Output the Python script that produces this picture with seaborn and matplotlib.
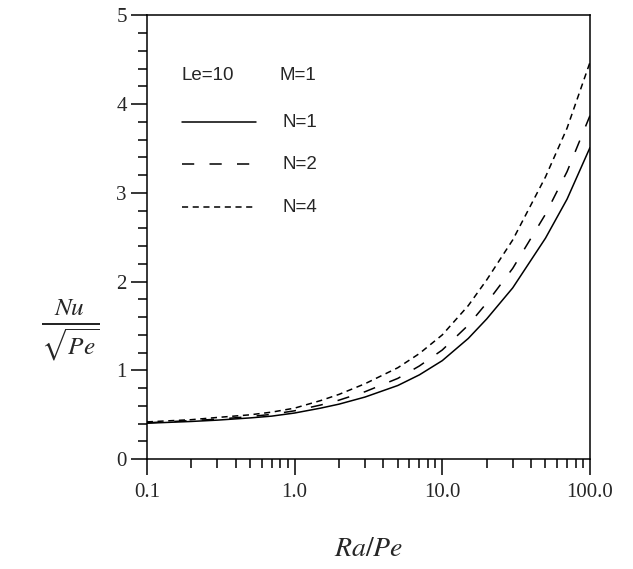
import numpy as np
import pandas as pd
import seaborn as sns
import matplotlib
matplotlib.use("Agg")
import matplotlib.pyplot as plt
from matplotlib.ticker import LogLocator, MultipleLocator, FixedLocator, FuncFormatter
from matplotlib.lines import Line2D

# Ra/Pe values
ra_pe = [0.1, 0.2, 0.3, 0.5, 0.7, 1.0, 1.5, 2.0, 3.0, 5.0, 7.0, 10.0, 15.0, 20.0, 30.0, 50.0, 70.0, 100.0]

# Nu/sqrt(Pe) for each N
nu_n1 = [0.405, 0.425, 0.44, 0.465, 0.485, 0.52, 0.575, 0.62, 0.70, 0.83, 0.95, 1.11, 1.36, 1.58, 1.93, 2.49, 2.93, 3.51]
nu_n2 = [0.41, 0.435, 0.45, 0.48, 0.505, 0.545, 0.61, 0.665, 0.76, 0.91, 1.05, 1.23, 1.51, 1.76, 2.15, 2.76, 3.24, 3.87]
nu_n4 = [0.42, 0.445, 0.47, 0.50, 0.53, 0.575, 0.66, 0.73, 0.85, 1.03, 1.19, 1.40, 1.73, 2.02, 2.47, 3.18, 3.73, 4.47]

labels = ["N=1", "N=2", "N=4"]
dash_styles = {"N=1": "", "N=2": (8, 10), "N=4": (4, 3)}

df = pd.concat([
    pd.DataFrame({"x": ra_pe, "y": nu_n1, "case": "N=1"}),
    pd.DataFrame({"x": ra_pe, "y": nu_n2, "case": "N=2"}),
    pd.DataFrame({"x": ra_pe, "y": nu_n4, "case": "N=4"}),
])

sns.set_style("ticks")
plt.rcParams["mathtext.fontset"] = "stix"
plt.rcParams["font.family"] = ["Liberation Serif", "DejaVu Serif"]

fig = plt.figure(figsize=(6.33, 5.69), dpi=100)
ax = fig.add_axes([0.232, 0.193, 0.700, 0.780])

sns.lineplot(data=df, x="x", y="y", style="case", style_order=labels,
             dashes=dash_styles, color="black", linewidth=1.1,
             legend=False, ax=ax, sort=False)

ax.set_xscale("log")
ax.set_xlim(0.1, 100)
ax.set_ylim(0, 5)

ax.xaxis.set_major_locator(FixedLocator([0.1, 1, 10, 100]))
ax.xaxis.set_major_formatter(FuncFormatter(lambda v, p: "%.1f" % v))
ax.xaxis.set_minor_locator(LogLocator(base=10, subs=np.arange(2, 10)))
ax.yaxis.set_major_locator(MultipleLocator(1))
ax.yaxis.set_minor_locator(MultipleLocator(0.2))

ax.tick_params(which="major", direction="out", length=11.5, width=1.1,
               labelsize=15, pad=3, color="black")
ax.tick_params(axis="x", which="major", pad=6)
ax.tick_params(which="minor", direction="out", length=6.5, width=1.1, color="black")
ax.tick_params(top=False, right=False, which="both")

for s in ax.spines.values():
    s.set_visible(True)
    s.set_linewidth(1.1)
    s.set_color("black")

ax.set_xlabel(r"$Ra/Pe$", fontsize=20, labelpad=25)
ax.set_ylabel(r"$\frac{Nu}{\sqrt{Pe}}$", fontsize=26, rotation=0, ha="center", va="center")
ax.yaxis.set_label_coords(-0.174, 0.29)

# legend drawn by hand, like the original
sans = ["Liberation Sans", "DejaVu Sans"]
ax.text(0.079, 0.865, "Le=10", transform=ax.transAxes, fontsize=13.5, family=sans, va="center")
ax.text(0.300, 0.865, "M=1", transform=ax.transAxes, fontsize=13.5, family=sans, va="center")
for lab, yy in zip(labels, [0.759, 0.664, 0.568]):
    ln = Line2D([0.079, 0.246], [yy, yy], transform=ax.transAxes, color="black", linewidth=1.1)
    if dash_styles[lab]:
        ln.set_dashes(dash_styles[lab])
    ax.add_line(ln)
    ax.text(0.305, yy, lab, transform=ax.transAxes, fontsize=13.5, family=sans, va="center")

fig.savefig("out.png", dpi=100)
